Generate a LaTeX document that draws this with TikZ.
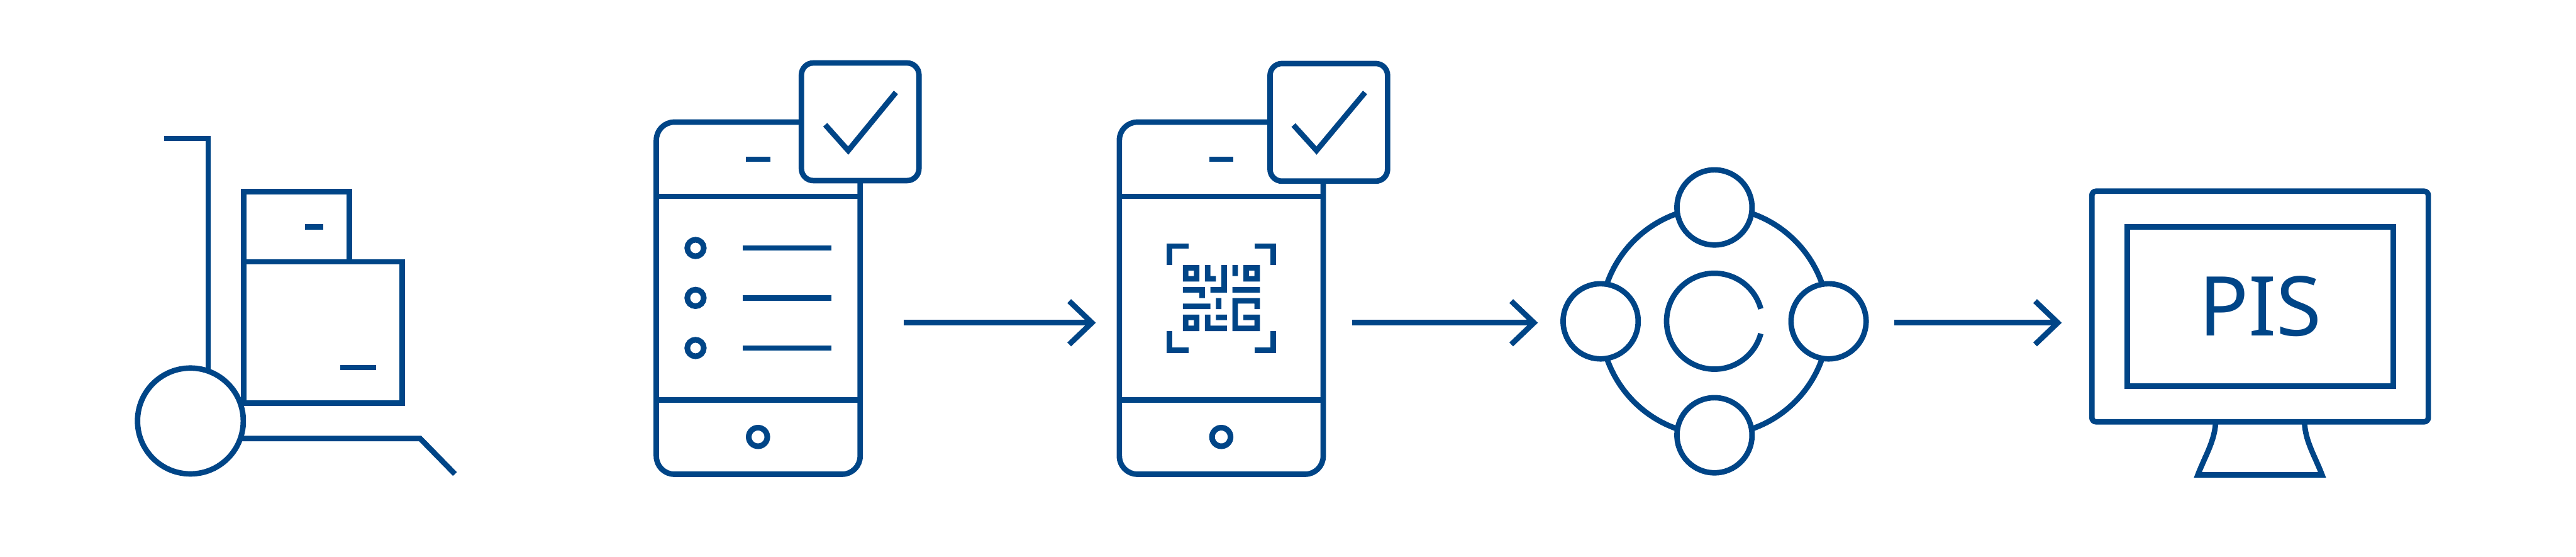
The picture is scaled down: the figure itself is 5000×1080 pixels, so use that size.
\documentclass[tikz,border=0pt]{standalone}
\usepackage{fontspec}
\setmainfont{Noto Sans}
\usetikzlibrary{arrows.meta}
\definecolor{pisblue}{HTML}{004587}
\tikzset{
	iconline/.style={draw=pisblue, line width=0.106cm},
	crate/.style={iconline, inner sep=0pt},
	phone/.style={iconline, inner sep=0pt, minimum width=3.954cm, minimum height=6.826cm, rounded corners=0.35cm},
	checkbox/.style={iconline, fill=white, inner sep=0pt, minimum width=2.28cm, minimum height=2.28cm, rounded corners=0.23cm},
	ringbtn/.style={circle, iconline, fill=white, inner sep=0pt, line width=0.11cm},
	peer/.style={circle, iconline, fill=white, inner sep=0pt, minimum size=1.456cm},
	flowline/.style={iconline, -{Straight Barb[length=0.44cm, width=0.84cm]}},
}
\begin{document}
\begin{tikzpicture}[x=0.01cm, y=-0.01cm]
	\useasboundingbox (0,0) rectangle (5000,1080);
	% trolley
	\node[crate, minimum width=2.05cm, minimum height=1.365cm] (uppercrate) at (575.3,439.7) {};
	\node[crate, minimum width=3.08cm, minimum height=2.74cm] (lowercrate) at (626.7,645) {};
	\draw[iconline] (318,268.6) -- (404,268.6) -- (404,730);
	\draw[iconline] (470,850.5) -- (815.5,850.5) -- (883,919.4);
	\draw[iconline] (592,440) -- (627,440);
	\draw[iconline] (660.6,713) -- (729.4,713);
	\node[circle, iconline, fill=white, inner sep=0pt, minimum size=2.052cm] (wheel) at (369.6,816.5) {};
	% first phone
	\node[phone] (listphone) at (1471.7,578.3) {};
	\draw[iconline] (1274,380.8) -- (1669.4,380.8);
	\draw[iconline] (1274,775.9) -- (1669.4,775.9);
	\draw[iconline] (1447.8,309) -- (1494.9,309);
	\node[ringbtn, minimum size=0.32cm] (dota) at (1350,481) {};
	\node[ringbtn, minimum size=0.32cm] (dotb) at (1350,577.8) {};
	\node[ringbtn, minimum size=0.32cm] (dotc) at (1350,675) {};
	\draw[iconline] (1441.5,481) -- (1614.3,481);
	\draw[iconline] (1441.5,577.8) -- (1614.3,577.8);
	\draw[iconline] (1441.5,675) -- (1614.3,675);
	\node[ringbtn, minimum size=0.36cm] (homea) at (1471.3,847.5) {};
	\node[checkbox] (checka) at (1669.6,236.2) {};
	\draw[iconline] (1601.7,242) -- (1646.4,292) -- (1738.9,179.3);
	% second phone
	\node[phone] (qrphone) at (2370.5,578.3) {};
	\draw[iconline] (2173,380.8) -- (2568,380.8);
	\draw[iconline] (2173,775.9) -- (2568,775.9);
	\draw[iconline] (2347,309) -- (2394,309);
	\node[ringbtn, minimum size=0.36cm] (homeb) at (2370.5,847.5) {};
	\node[checkbox] (checkb) at (2579.2,237.3) {};
	\draw[iconline] (2510.6,242.6) -- (2555.4,292) -- (2649.5,179.3);
	% qr code
	\draw[pisblue, line width=0.1067cm] (2306.7,477.3) -| (2269.7,514);
	\draw[pisblue, line width=0.1067cm] (2434.7,477.3) -| (2471.7,514);
	\draw[pisblue, line width=0.1067cm] (2306.7,679.3) -| (2269.7,642);
	\draw[pisblue, line width=0.1067cm] (2434.7,679.3) -| (2471.7,642);
	\begin{scope}[shift={(2296,514)}, x=0.1067cm, y=-0.1067cm]
		\foreach \cx/\cy in {0/0, 11/0, 0/9}
			\fill[pisblue, even odd rule] (\cx,\cy) rectangle ++(3,3) (\cx+1,\cy+1) rectangle ++(1,1);
		\fill[pisblue] foreach \xa/\ya/\xb/\yb in {4/0/5/3, 5/2/6/3, 7/0/8/5, 5/4/7/5, 9/0/10/2, 9/4/14/5, 0/4/4/5, 3/5/4/6, 0/7/5/8, 6/6/7/8, 9/6/14/7, 13/7/14/8, 9/7/10/12, 10/11/14/12, 13/9/14/11, 11/9/13/10, 4/9/5/12, 5/11/8/12, 6/9/8/10} {(\xa,\ya) rectangle (\xb,\yb)};
	\end{scope}
	% peers on a ring
	\coordinate (hub) at (3327.8,623);
	\draw[iconline] (hub) circle[radius=221];
	\draw[iconline] (hub) ++(15:93) arc[start angle=15, end angle=345, radius=93];
	\node[peer] (peertop) at (3327.8,402.3) {};
	\node[peer] (peerleft) at (3106.8,623.2) {};
	\node[peer] (peerright) at (3549.2,623.2) {};
	\node[peer] (peerbottom) at (3327.8,844.2) {};
	% monitor
	\draw[iconline] (4300.5,818) .. controls (4299,855) and (4281,882) .. (4266,921) -- (4507,921) .. controls (4492,882) and (4474,855) .. (4473,818);
	\node[crate, fill=white, minimum width=6.525cm, minimum height=4.47cm, rounded corners=0.08cm] (monitor) at (4386.8,594.5) {};
	\node[crate, minimum width=5.157cm, minimum height=3.09cm, text=pisblue, font=\fontsize{45.5}{50}\selectfont] (pisscreen) at (4387.1,594.5) {PIS};
	% arrows
	\coordinate (flowa) at (1754.3,626);
	\coordinate (flowb) at (2127,626);
	\coordinate (flowc) at (2624.8,626);
	\coordinate (flowd) at (2985,626);
	\coordinate (flowe) at (3676.7,626);
	\coordinate (flowf) at (4001.8,626);
	\draw[flowline] (flowa) -- (flowb);
	\draw[flowline] (flowc) -- (flowd);
	\draw[flowline] (flowe) -- (flowf);
\end{tikzpicture}
\end{document}
